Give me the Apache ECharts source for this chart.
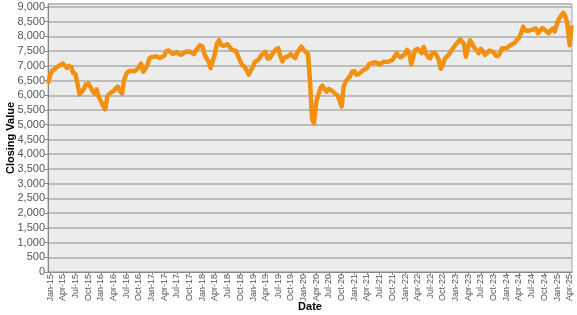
<!DOCTYPE html>
<html>
<head>
<meta charset="utf-8">
<script src="https://cdn.jsdelivr.net/npm/echarts@6/dist/echarts.min.js"></script>
<style>
html,body{margin:0;padding:0;background:#fff;}
#c{width:577px;height:315px;}
</style>
</head>
<body>
<div id="c"></div>
<script>
// Semi-monthly closing values (1st and 15th of each month)
const v2014 = [6400]; // Dec 15, 2014
const v2015 = [6700,6850,6880,6950,6980,7030,7080,7100,6930,7000,6950,6760,6720,6690,6020,5980,6230,6380,6400,6300,6150,6050,6200,5950];
const v2016 = [5800,5650,5520,5950,6050,6080,6150,6230,6290,6150,6060,6500,6720,6800,6830,6860,6820,6790,6950,7080,6800,6850,7030,7250];
const v2017 = [7300,7260,7320,7360,7270,7300,7340,7500,7520,7480,7400,7380,7470,7400,7370,7420,7480,7530,7490,7450,7400,7520,7620,7700];
const v2018 = [7660,7400,7250,7150,6920,7150,7400,7760,7870,7720,7680,7650,7730,7700,7550,7600,7500,7330,7150,7020,6980,6850,6700,6830];
const v2019 = [6980,7140,7180,7250,7360,7420,7480,7250,7250,7370,7480,7560,7600,7350,7150,7280,7300,7260,7400,7360,7260,7440,7560,7650];
const v2020 = [7540,7560,7400,6520,5200,5050,5780,5840,6250,6330,6200,6120,6220,6180,6120,6050,6000,5950,5620,6300,6480,6570,6650,6800];
const v2021 = [6820,6700,6720,6760,6840,6880,6920,7050,7090,7080,7120,7140,7050,7030,7140,7120,7140,7090,7200,7300,7420,7340,7290,7260];
const v2022 = [7400,7540,7420,7050,7300,7540,7580,7560,7430,7640,7420,7300,7250,7430,7450,7370,7200,6900,7050,7250,7330,7400,7520,7620];
const v2023 = [7720,7800,7900,7960,7750,7310,7650,7870,7740,7620,7520,7430,7580,7500,7370,7380,7520,7500,7470,7350,7330,7420,7600,7640];
const v2024 = [7600,7660,7710,7700,7780,7880,7950,8100,8330,8210,8180,8160,8220,8250,8270,8110,8200,8280,8230,8200,8110,8200,8270,8170];
const v2025 = [8450,8600,8720,8800,8680,8450,7700,8380];

const values = [].concat(v2014, v2015, v2016, v2017, v2018, v2019, v2020, v2021, v2022, v2023, v2024, v2025);

// Quarterly tick labels on the date axis
const tickLabels = ['Jan-15','Apr-15','Jul-15','Oct-15','Jan-16','Apr-16','Jul-16','Oct-16','Jan-17','Apr-17','Jul-17','Oct-17',
  'Jan-18','Apr-18','Jul-18','Oct-18','Jan-19','Apr-19','Jul-19','Oct-19','Jan-20','Apr-20','Jul-20','Oct-20',
  'Jan-21','Apr-21','Jul-21','Oct-21','Jan-22','Apr-22','Jul-22','Oct-22','Jan-23','Apr-23','Jul-23','Oct-23',
  'Jan-24','Apr-24','Jul-24','Oct-24','Jan-25','Apr-25'];

const monthIdx = {Jan:0,Feb:1,Mar:2,Apr:3,May:4,Jun:5,Jul:6,Aug:7,Sep:8,Oct:9,Nov:10,Dec:11};
const DAY = 86400000;
function dayNum(y, m, d) { return Math.round(Date.UTC(y, m, d) / DAY); }
const tickDays = tickLabels.map(function (s) {
  const p = s.split('-');
  return dayNum(2000 + parseInt(p[1], 10), monthIdx[p[0]], 1);
});
const labelByDay = {};
tickDays.forEach(function (t, i) { labelByDay[t] = tickLabels[i]; });

// Dates (as day numbers): Dec 15 2014, then 1st and 15th of each month through Apr 2025
const days = [dayNum(2014, 11, 15)];
for (let y = 2015; y <= 2025; y++) {
  for (let m = 0; m < 12; m++) {
    if (y === 2025 && m > 3) break;
    days.push(dayNum(y, m, 1));
    days.push(dayNum(y, m, 15));
  }
}
const seriesData = days.map(function (d, i) { return [d, values[i]]; });

const chart = echarts.init(document.getElementById('c'), null, {renderer: 'canvas'});
const fontFam = '"Liberation Sans", Arial, sans-serif';
chart.setOption({
  animation: false,
  backgroundColor: '#ffffff',
  grid: {
    left: 48, right: 5, top: 4, bottom: 43,
    outerBoundsMode: 'none',
    containLabel: false,
    show: true, backgroundColor: '#ececec', borderColor: '#a8a8a8', borderWidth: 1
  },
  xAxis: {
    type: 'value',
    min: days[0],
    max: days[days.length - 1] + 3,
    name: 'Date',
    nameLocation: 'middle',
    nameGap: 29,
    nameMoveOverlap: false,
    nameTextStyle: {fontFamily: fontFam, fontSize: 11, fontWeight: 'bold', color: '#000'},
    axisLine: {show: true, onZero: false, lineStyle: {color: '#888', width: 1}},
    axisTick: {show: true, customValues: tickDays, length: 3, lineStyle: {color: '#888'}},
    axisLabel: {
      customValues: tickDays,
      rotate: 90,
      fontFamily: fontFam, fontSize: 9, color: '#555', margin: 2,
      formatter: function (v) { return labelByDay[v] || ''; }
    },
    splitLine: {show: false}
  },
  yAxis: {
    type: 'value',
    min: 0, max: 9100, interval: 500,
    name: 'Closing Value',
    nameLocation: 'middle',
    nameGap: 32,
    nameMoveOverlap: false,
    nameTextStyle: {fontFamily: fontFam, fontSize: 11, fontWeight: 'bold', color: '#000'},
    axisLine: {show: true, lineStyle: {color: '#888', width: 1}},
    axisTick: {show: true, length: 3, lineStyle: {color: '#888'}},
    axisLabel: {
      showMaxLabel: false,
      fontFamily: fontFam, fontSize: 11, color: '#555', margin: 3,
      formatter: function (v) { return v.toLocaleString('en-US'); }
    },
    splitLine: {show: true, lineStyle: {color: '#bcbcbc', width: 2}}
  },
  series: [{
    type: 'line',
    data: seriesData,
    showSymbol: false,
    symbol: 'none',
    lineStyle: {color: '#f29111', width: 4.5, join: 'round'},
    itemStyle: {color: '#f29111'}
  }]
});
</script>
</body>
</html>
